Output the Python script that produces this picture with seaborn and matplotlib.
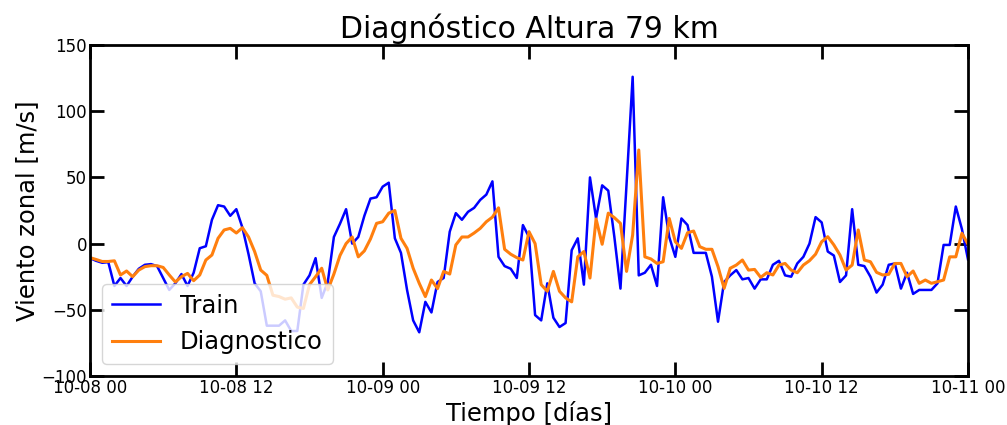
import numpy as np
import pandas as pd
import matplotlib
matplotlib.use("Agg")
import matplotlib.pyplot as plt
import matplotlib.dates as mdates
import seaborn as sns

# Zonal wind at 79 km, half-hourly samples from 10-08 00 to 10-11 00
train = [
    -11, -13, -14.5, -14, -32, -26, -32, -25, -19, -16,
    -15.5, -17, -26, -35, -30, -23, -32, -22, -3.5, -2,
    18, 29, 28, 21, 26, 12, -8, -30, -36, -62,
    -62, -62, -58, -66, -66, -31, -24, -11, -41, -29,
    5, 15, 26, 0, 5, 21, 34, 35, 43, 46,
    4, -7, -35, -58, -67, -44, -52, -29, -26, 9,
    23, 18, 24, 27, 33, 37, 47, -10, -17, -19,
    -26, 14, 5, -54, -58, -30, -56, -63, -60, -5,
    4, -31, 50, 19, 44, 40, 5, -34, 45, 126,
    -24, -22, -16, -32, 35, 5, -10, 19, 14, -7,
    -7, -7, -25, -59, -29, -24, -20, -27, -26, -34,
    -27, -27, -16, -13, -24, -25, -15, -10, 0, 20,
    16, -6, -9, -29, -24, 26, -16, -17, -25, -37,
    -31, -16, -15, -34, -22, -38, -35, -35, -35, -30,
    -1, -1, 28, 11, -12,
]

diagnostico = [
    -10.6, -12, -13.5, -13.5, -13, -23.7, -20.7, -25, -20, -17.4,
    -16.7, -16.7, -18, -23.7, -29, -25, -22.5, -28, -23.7, -12.4,
    -8.6, 4, 10.3, 11.5, 8, 12, 5, -6, -20, -24,
    -39, -40, -42, -41, -48, -49, -31, -25, -18.6, -35,
    -23, -9, 0, 5, -10, -5.5, 3.5, 15.3, 16.5, 23,
    25, 4, -3.6, -18.6, -30, -40, -27.5, -34, -21, -23,
    -1, 5, 5, 8, 11.5, 16.5, 20, 27, -4.3, -8,
    -10.6, -12.4, 9, 0, -31, -36, -21, -36, -41, -44,
    -10, -6, -26, 18.6, -0.5, 23, 19.6, 15.3, -21, 6.5,
    70.7, -10, -11.6, -15, -13.7, 19, 1.4, -3.6, 8.2, 9.5,
    -2.3, -4.3, -4.3, -17.4, -33.8, -18.6, -16.2, -12.4, -20, -19.5,
    -25.5, -22, -23.7, -16.2, -15, -20, -22, -16.2, -12.9, -8,
    1.4, 5.2, -1, -8.6, -20, -16.2, 10.3, -12.4, -13.7, -21.7,
    -23.7, -23.2, -15, -15, -25, -20.7, -30, -27.5, -30, -28.8,
    -27.5, -10, -10, 7.8, -0.5,
]

tiempo = pd.date_range("2021-10-08 00:00", "2021-10-11 00:00", freq="30min")
y_ticks = [-100, -50, 0, 50, 100, 150]

df = pd.DataFrame({"tiempo": tiempo, "Train": train, "Diagnostico": diagnostico})

fig = plt.figure(figsize=(10.07, 4.25), dpi=100)
ax = fig.add_axes([90 / 1007, 1 - 376 / 425, 878 / 1007, 331 / 425])

sns.lineplot(data=df, x="tiempo", y="Train", ax=ax, color="#0000ff",
             linewidth=1.8, label="Train")
sns.lineplot(data=df, x="tiempo", y="Diagnostico", ax=ax, color="#ff7f0e",
             linewidth=2.2, label="Diagnostico")

ax.set_xlim(tiempo[0], tiempo[-1])
ax.set_ylim(-100, 150)
ax.set_yticks(y_ticks)
ax.xaxis.set_major_locator(mdates.HourLocator(byhour=[0, 12]))
ax.xaxis.set_major_formatter(mdates.DateFormatter("%m-%d %H"))

ax.tick_params(direction="in", length=10, width=2, labelsize=12,
               top=True, right=True, pad=2)
for s in ax.spines.values():
    s.set_linewidth(2)

ax.set_title("Diagnóstico Altura 79 km", fontsize=21.5, pad=5)
ax.set_xlabel("Tiempo [días]", fontsize=17.5, labelpad=3)
ax.set_ylabel("Viento zonal [m/s]", fontsize=17.5, labelpad=2)
ax.legend(loc="lower left", fontsize=17.5)

fig.savefig("out.png", dpi=100)
